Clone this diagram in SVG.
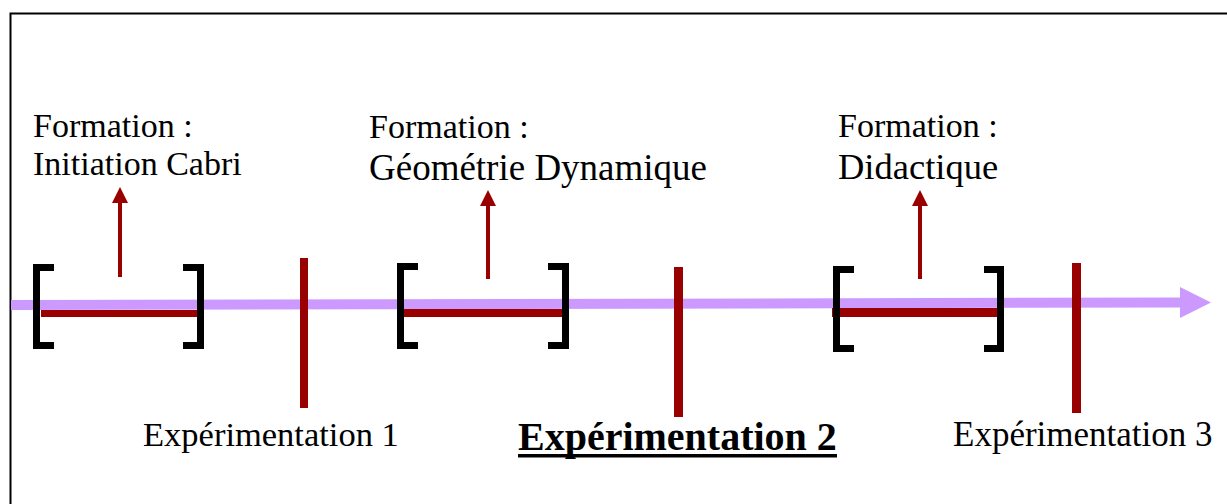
<svg xmlns="http://www.w3.org/2000/svg" width="1227" height="504" viewBox="0 0 1227 504">
<style>
.t{font-family:"Liberation Serif","Times New Roman",serif;fill:#000}
.br{fill:none;stroke:#000;stroke-width:7;stroke-linecap:butt}
.red{fill:#990000}
.up{stroke:#990000;stroke-width:4}
</style>
<rect x="10.5" y="13.5" width="1240" height="520" fill="#fff" stroke="#000" stroke-width="2"/>
<g id="connectors">
<polygon points="11,300 1180,297.5 1180,287 1211,302.5 1180,318 1180,307.5 11,310" fill="#CC99FF"/>
</g>
<g id="formation1">
<rect class="red" x="41" y="310" width="163" height="7"/>
<path class="br" d="M54,267.5 H36.5 V345.5 H54"/>
<path class="br" d="M183,267.5 H200.5 V345.5 H183"/>
<line class="up" x1="120" y1="277" x2="120" y2="203"/>
<polygon class="red" points="112,203 120,187 128,203"/>
<text class="t" x="33" y="137" font-size="34">Formation :</text>
<text class="t" x="33" y="175" font-size="34">Initiation Cabri</text>
</g>
<g id="formation2">
<rect class="red" x="403" y="309" width="165" height="8"/>
<path class="br" d="M418,266.5 H400.5 V345.5 H418"/>
<path class="br" d="M548,266.5 H565.5 V345.5 H548"/>
<line class="up" x1="488" y1="279" x2="488" y2="206"/>
<polygon class="red" points="480,206 488,190 496,206"/>
<text class="t" x="369" y="138" font-size="34">Formation :</text>
<text class="t" x="369" y="180" font-size="37">Géométrie Dynamique</text>
</g>
<g id="formation3">
<rect class="red" x="832" y="308" width="165" height="9"/>
<path class="br" d="M854,269.5 H836.5 V348.5 H854"/>
<path class="br" d="M984,269.5 H1000.5 V348.5 H984"/>
<line class="up" x1="920" y1="279" x2="920" y2="206"/>
<polygon class="red" points="912,206 920,190 928,206"/>
<text class="t" x="838" y="137" font-size="34">Formation :</text>
<text class="t" x="838" y="179" font-size="36.5">Didactique</text>
</g>
<g id="experimentation1">
<rect class="red" x="300" y="258" width="8" height="150"/>
<text class="t" x="143" y="446" font-size="34.5">Expérimentation 1</text>
</g>
<g id="experimentation2">
<rect class="red" x="674" y="267" width="9" height="150"/>
<text class="t" x="518" y="450" font-size="40" font-weight="bold">Expérimentation 2</text>
<rect x="518" y="454" width="319" height="3.5" fill="#000"/>
</g>
<g id="experimentation3">
<rect class="red" x="1072" y="263" width="9" height="150"/>
<text class="t" x="953" y="446" font-size="35">Expérimentation 3</text>
</g>
</svg>
